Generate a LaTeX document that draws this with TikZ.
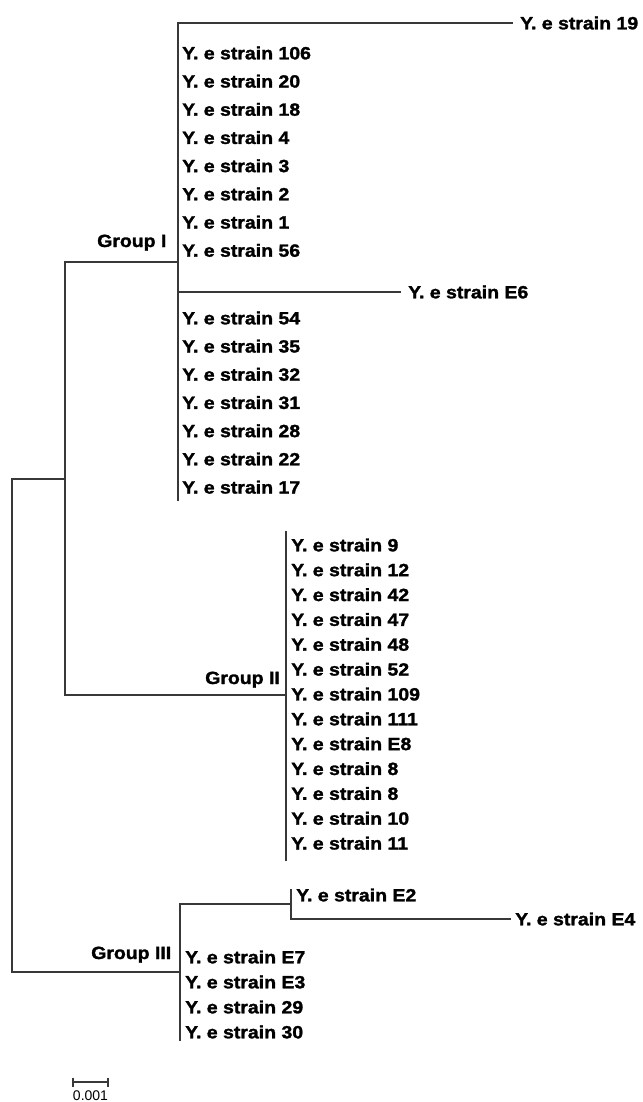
\documentclass[tikz,border=0pt]{standalone}
\usepackage{fontspec}
\newfontfamily\lblfont[FakeStretch=1.1,FakeBold=1.6]{Liberation Sans Bold}
\newfontfamily\scalefont{Liberation Sans}
\begin{document}
\begin{tikzpicture}[x=1pt,y=-1pt,
  branch/.style={draw=black!78,line width=1.3pt,line cap=rect},
  leaf/.style={anchor=west,inner sep=0pt,font=\lblfont\fontsize{17.7}{20}\selectfont},
  grp/.style={anchor=base west,inner sep=0pt,font=\lblfont\fontsize{17.7}{20}\selectfont},
  scaletxt/.style={inner sep=0pt,font=\scalefont\fontsize{14}{16}\selectfont}]
\useasboundingbox (0,0) rectangle (642,1102);

% internal coordinates
\coordinate (r1) at (12,479);
\coordinate (r2) at (12,972);
\coordinate (a0) at (65,479);
\coordinate (a1) at (65,262);
\coordinate (a2) at (65,695);
\coordinate (g1) at (178,262);
\coordinate (g1t) at (178,23);
\coordinate (g1b) at (178,500);
\coordinate (g1e) at (178,292);
\coordinate (g2) at (286,695);
\coordinate (g2t) at (286,532);
\coordinate (g2b) at (286,860);
\coordinate (g3) at (180,972);
\coordinate (g3t) at (180,904);
\coordinate (g3b) at (180,1040);
\coordinate (e2n) at (291,904);
\coordinate (e2t) at (291,890);
\coordinate (e2b) at (291,919);

% Group I labels
\node[leaf] (l19) at (520,23) {Y. e strain 19};
\node[leaf] (lE6) at (408,292) {Y. e strain E6};
\foreach \t [count=\i from 0] in {106,20,18,4,3,2,1,56}
  \node[leaf] (gA\i) at (182,53+28.2*\i) {Y. e strain \t};
\foreach \t [count=\i from 0] in {54,35,32,31,28,22,17}
  \node[leaf] (gB\i) at (182,318+28.2*\i) {Y. e strain \t};
\node[grp] (G1) at (97,247) {Group I};

% Group II labels
\foreach \t [count=\i from 0] in {9,12,42,47,48,52,109,111,E8,8,8,10,11}
  \node[leaf] (gC\i) at (291,545+24.85*\i) {Y. e strain \t};
\node[grp] (G2) at (205,684) {Group II};

% Group III labels
\node[leaf] (lE2) at (296,895) {Y. e strain E2};
\node[leaf] (lE4) at (515,919) {Y. e strain E4};
\foreach \t [count=\i from 0] in {E7,E3,29,30}
  \node[leaf] (gD\i) at (185,957+25*\i) {Y. e strain \t};
\node[grp] (G3) at (91,959) {Group III};

% tree
\draw[branch] (r1) -- (r2);
\draw[branch] (r1) -- (a0);
\draw[branch] (a1) -- (a2);
\draw[branch] (a1) -- (g1);
\draw[branch] (g1t) -- (g1b);
\draw[branch,shorten >=8pt] (g1t) -- (l19.west);
\draw[branch,shorten >=8pt] (g1e) -- (lE6.west);
\draw[branch] (a2) -- (g2);
\draw[branch] (g2t) -- (g2b);
\draw[branch] (r2) -- (g3);
\draw[branch] (g3t) -- (g3b);
\draw[branch] (g3t) -- (e2n);
\draw[branch] (e2t) -- (e2b);
\draw[branch,shorten >=5pt] (e2b) -- (lE4.west);

% scale bar
\coordinate (s1) at (73,1082);
\coordinate (s2) at (108,1082);
\draw[draw=black!78,line width=1.1pt] (s1) -- (s2);
\draw[draw=black!78,line width=1.1pt] ([yshift=4.5pt]s1) -- ([yshift=-4.5pt]s1);
\draw[draw=black!78,line width=1.1pt] ([yshift=4.5pt]s2) -- ([yshift=-4.5pt]s2);
\node[scaletxt,anchor=base] (sc) at (90.5,1100) {0.001};
\end{tikzpicture}
\end{document}
